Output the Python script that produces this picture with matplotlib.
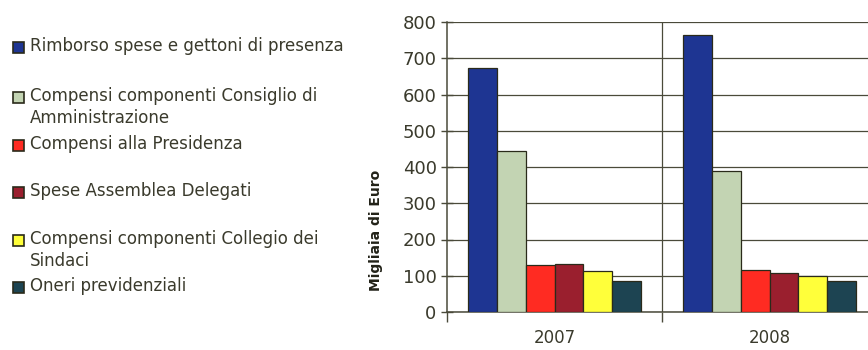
import numpy as np
import matplotlib.pyplot as plt
from matplotlib.patches import Rectangle

# data (migliaia di euro)
years = ["2007", "2008"]
series = [
    "Rimborso spese e gettoni di presenza",
    "Compensi componenti Consiglio di\nAmministrazione",
    "Compensi alla Presidenza",
    "Spese Assemblea Delegati",
    "Compensi componenti Collegio dei\nSindaci",
    "Oneri previdenziali",
]
values_2007 = [673, 444, 130, 132, 113, 86]
values_2008 = [764, 389, 116, 107, 99, 86]
colors = ["#1e3592", "#c3d4b3", "#ff2b22", "#9a1f2e", "#ffff3a", "#1d4452"]

text_col = "#3a3a2c"
line_col = "#4a4a3a"

fig = plt.figure(figsize=(8.68, 3.5), dpi=100)
fig.patch.set_facecolor("white")

# axes runs past the right edge, like the cropped original
ax = fig.add_axes([447 / 868, 38 / 350, 430 / 868, 290 / 350])

x = np.arange(len(years))
w = 0.134
data = np.array([values_2007, values_2008])
for i, name in enumerate(series):
    ax.bar(x + (i - 2.5) * w, data[:, i], width=w, color=colors[i],
           edgecolor="#2a2a1a", linewidth=0.9, zorder=3)

ax.set_xlim(-0.5, 1.5)
ax.set_ylim(0, 800)
ax.set_yticks(np.arange(0, 801, 100))
ax.yaxis.grid(True, color=line_col, linewidth=0.9, zorder=0)
ax.axvline(0.5, color=line_col, linewidth=0.9, zorder=1)

ax.set_xticks(x)
ax.set_xticklabels(years, fontsize=12, color=text_col)
ax.set_xticks([-0.5, 0.5, 1.5], minor=True)
ax.tick_params(axis="x", which="major", length=0, pad=12)
ax.tick_params(axis="x", which="minor", length=7, direction="out", color=line_col, width=1)
ax.tick_params(axis="y", direction="inout", length=9, color=line_col, width=1,
               labelsize=13, labelcolor=text_col, pad=3)

for s in ["top", "right"]:
    ax.spines[s].set_visible(False)
for s in ["left", "bottom"]:
    ax.spines[s].set_color(line_col)
    ax.spines[s].set_linewidth(1.1)

ax.set_ylabel("Migliaia di Euro", fontsize=10, fontweight="bold", color="#222218")
ax.yaxis.set_label_coords(-0.148, 0.28)

# legend on the left
leg_y = [47, 97, 145, 192, 240, 287]
for name, col, yp in zip(series, colors, leg_y):
    fig.patches.append(Rectangle((13 / 868, 1 - (yp + 6) / 350), 11 / 868, 11 / 350,
                                 transform=fig.transFigure, facecolor=col,
                                 edgecolor="#2a2a1a", linewidth=1.2))
    fig.text(30 / 868, 1 - (yp - 10) / 350, name, fontsize=12, color=text_col,
             va="top", ha="left", linespacing=1.3)

fig.savefig("out.png", dpi=100)
